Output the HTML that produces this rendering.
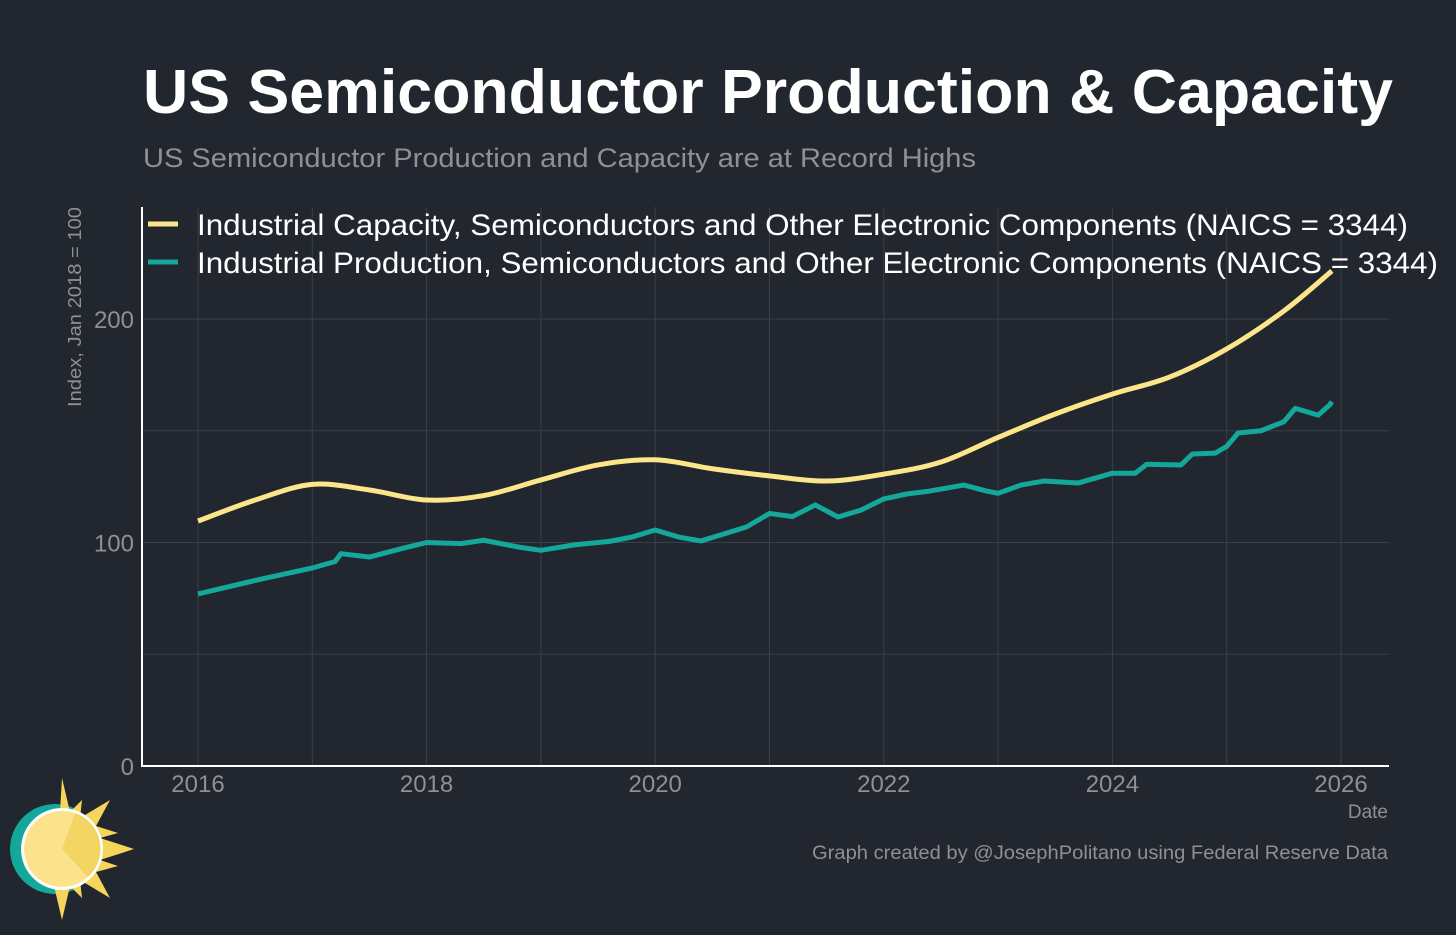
<!DOCTYPE html>
<html><head><meta charset="utf-8"><style>
body{margin:0;background:#22262e;width:1456px;height:930px;overflow:hidden;font-family:"Liberation Sans",Arial,sans-serif}
</style></head><body>
<svg id="c" width="1456" height="930" xmlns="http://www.w3.org/2000/svg">
<rect width="1456" height="930" fill="#22262e"/>
<text x="143" y="113" font-size="62" font-weight="bold" fill="#ffffff" textLength="1250" lengthAdjust="spacingAndGlyphs">US Semiconductor Production &amp; Capacity</text>
<text x="143" y="167" font-size="27" fill="#8d9097" textLength="833" lengthAdjust="spacingAndGlyphs">US Semiconductor Production and Capacity are at Record Highs</text>
<g id="grid"></g>
<g id="series"></g>
<line x1="142" y1="207" x2="142" y2="767" stroke="#fff" stroke-width="2"/>
<line x1="141" y1="766" x2="1389" y2="766" stroke="#fff" stroke-width="2"/>
<text transform="translate(81,307) rotate(-90)" text-anchor="middle" font-size="18" fill="#8d9097" textLength="200" lengthAdjust="spacingAndGlyphs">Index, Jan 2018 = 100</text>
<text x="1388" y="818" text-anchor="end" font-size="19" fill="#8d9097">Date</text>
<text x="812" y="859" font-size="19" fill="#8d9097" textLength="576" lengthAdjust="spacingAndGlyphs">Graph created by @JosephPolitano using Federal Reserve Data</text>
<g>
<line x1="148" y1="224" x2="178" y2="224" stroke="#fde68a" stroke-width="5"/>
<text x="197" y="235" font-size="30" fill="#fff" textLength="1211" lengthAdjust="spacingAndGlyphs">Industrial Capacity, Semiconductors and Other Electronic Components (NAICS = 3344)</text>
<line x1="148" y1="262" x2="178" y2="262" stroke="#14a89a" stroke-width="5"/>
<text x="197" y="273" font-size="30" fill="#fff" textLength="1241" lengthAdjust="spacingAndGlyphs">Industrial Production, Semiconductors and Other Electronic Components (NAICS = 3344)</text>
</g>
<g>
<circle cx="55" cy="849" r="45" fill="#14a89a"/>
<polygon points="62,778 70,812 82,800 80,818 110,800 96,826 118,833 100,838 134,849 100,860 118,866 96,872 110,898 80,880 82,898 70,886 62,920 54,886 60,812" fill="#f5d55c"/>
<circle cx="62" cy="849" r="41" fill="#fff"/>
<circle cx="62" cy="849" r="38" fill="#fae38a"/>
<path d="M62,849 L75,813 A38,38 0 0,1 88,877 Z" fill="#f2d562"/>
</g>
</svg>
<script>
const yearTicks=[2016,2018,2020,2022,2024,2026];
const yTicks=[0,100,200];
const yMinor=[50,150];
const capDates=[2016,2016.5,2017,2017.5,2018,2018.5,2019,2019.5,2020,2020.5,2021,2021.5,2022,2022.5,2023,2023.5,2024,2024.5,2025,2025.5,2025.92];
const capValues=[109.6,119,126,123.5,119,121,128,134.7,137,133,129.8,127.5,130.6,136,147,157.5,166.4,174,186.6,203.6,221.5];
const prodDates=[2016,2016.5,2017,2017.2,2017.25,2017.5,2017.8,2018,2018.3,2018.5,2018.8,2019,2019.3,2019.6,2019.8,2020,2020.2,2020.4,2020.6,2020.8,2021,2021.2,2021.4,2021.6,2021.8,2022,2022.2,2022.4,2022.7,2022.9,2023,2023.2,2023.4,2023.7,2024,2024.2,2024.3,2024.6,2024.7,2024.9,2025,2025.1,2025.3,2025.5,2025.6,2025.8,2025.9,2025.92];
const prodValues=[77,83,88.6,91.5,95,93.5,97.5,100,99.5,101,98,96.5,99,100.5,102.5,105.6,102.5,100.7,103.8,107,113,111.6,116.8,111.4,114.5,119.5,121.7,123,125.7,123,122,125.7,127.5,126.6,131,131,135,134.7,139.6,140,143,149,150,154,160,157,161.5,163];
const xS=d=>198+(d-2016)*114.3;
const yS=v=>766-v*2.235;
const NS="http://www.w3.org/2000/svg";
const grid=document.getElementById('grid'),ser=document.getElementById('series'),svg=document.getElementById('c');
function mk(t,a,p){const e=document.createElementNS(NS,t);for(const k in a)e.setAttribute(k,a[k]);(p||grid).appendChild(e);return e;}
for(let y=2016;y<=2026;y++){const l=mk('line',{x1:xS(y),x2:xS(y),y1:207,y2:766,stroke:'#3a3f48','stroke-width':1});

}
yTicks.concat(yMinor).forEach(v=>{const l=mk('line',{x1:142,x2:1389,y1:yS(v),y2:yS(v),stroke:'#3a3f48','stroke-width':1});

});
yearTicks.forEach(y=>{const t=mk('text',{x:xS(y),y:792,'text-anchor':'middle','font-size':24,fill:'#8d9097'},svg);t.textContent=y;

});
yTicks.forEach(v=>{const t=mk('text',{x:134,y:yS(v)+9,'text-anchor':'end','font-size':24,fill:'#8d9097'},svg);t.textContent=v;

});
function smooth(xs,ys){const p=xs.map((d,i)=>[xS(d),yS(ys[i])]);let s='M'+p[0];for(let i=0;i<p.length-1;i++){const a=p[i-1]||p[i],b=p[i],c=p[i+1],d=p[i+2]||c;
s+=` C${b[0]+(c[0]-a[0])/6},${b[1]+(c[1]-a[1])/6} ${c[0]-(d[0]-b[0])/6},${c[1]-(d[1]-b[1])/6} ${c[0]},${c[1]}`;}return s;}
const cap=mk('path',{d:smooth(capDates,capValues),fill:'none',stroke:'#fde68a','stroke-width':5},ser);


const prod=mk('path',{d:'M'+prodDates.map((d,i)=>xS(d)+','+yS(prodValues[i])).join(' L'),fill:'none',stroke:'#14a89a','stroke-width':5,'stroke-linejoin':'round'},ser);


</script>
</body></html>
